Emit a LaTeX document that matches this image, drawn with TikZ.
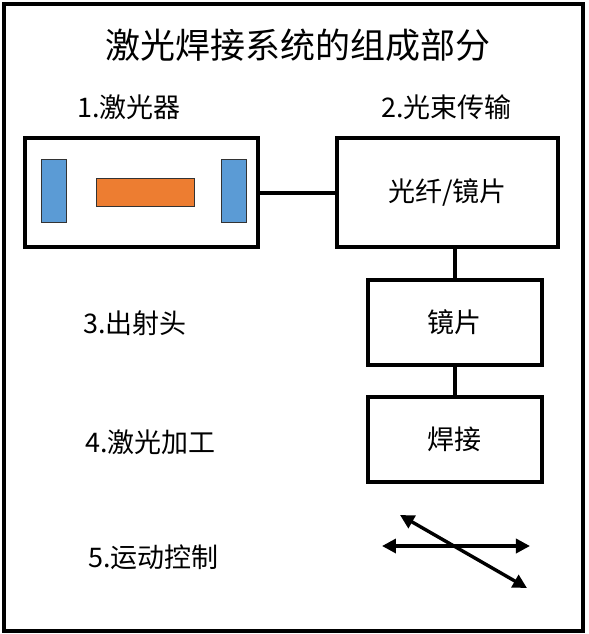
\documentclass[tikz,border=0pt]{standalone}
\usepackage{fontspec}
\setmainfont{Noto Sans CJK SC}
\usetikzlibrary{arrows.meta}
\definecolor{mirrorblue}{HTML}{5B9BD5}
\definecolor{rodorange}{HTML}{ED7D31}
\tikzset{
  box/.style={draw, line width=2pt, inner sep=0pt, font=\fontsize{13.5}{16}\selectfont},
  lbl/.style={anchor=west, inner sep=0pt, font=\fontsize{13.5}{16}\selectfont},
  link/.style={line width=2pt},
  motion/.style={line width=1.7pt, {Triangle[length=7pt,width=7pt]}-{Triangle[length=7pt,width=7pt]}},
}
\begin{document}
\begin{tikzpicture}[x=0.5pt,y=-0.5pt]
  \useasboundingbox (0,0) rectangle (589,634);
  % outer frame and title
  \draw[line width=2pt] (4,4) rectangle (583,631);
  \node[font=\fontsize{17.5}{21}\selectfont] (title) at (298,45) {激光焊接系统的组成部分};
  % section labels
  \node[lbl] (lab1) at (77,107) {1.激光器};
  \node[lbl] (lab2) at (381,107) {2.光束传输};
  \node[lbl] (lab3) at (83,323) {3.出射头};
  \node[lbl] (lab4) at (85,442) {4.激光加工};
  \node[lbl] (lab5) at (88,557) {5.运动控制};
  % laser: resonator box with two mirrors and the rod
  \node[box, minimum width=116.5pt, minimum height=54.5pt] (laser) at (141.5,192.5) {};
  \filldraw[fill=mirrorblue, draw=black!80, line width=0.5pt] (42,159) rectangle (67,222);
  \filldraw[fill=rodorange, draw=black!80, line width=0.5pt] (97,178) rectangle (195,206);
  \filldraw[fill=mirrorblue, draw=black!80, line width=0.5pt] (222,159) rectangle (247,222);
  % beam delivery chain
  \node[box, minimum width=110.5pt, minimum height=54.5pt] (fiber) at (447.5,192.5) {光纤/镜片};
  \node[box, minimum width=87pt, minimum height=42.5pt] (lens) at (455,322.5) {镜片};
  \node[box, minimum width=87pt, minimum height=42.5pt] (weld) at (455,439.5) {焊接};
  \draw[link] (laser) -- (fiber);
  \draw[link] (lens.north) -- (lens.north |- fiber.south);
  \draw[link] (lens) -- (weld);
  % motion axes
  \coordinate (xl) at (382,546);
  \coordinate (xr) at (530,546);
  \coordinate (dl) at (400,515);
  \coordinate (dr) at (527,588);
  \draw[motion] (xl) -- (xr);
  \draw[motion] (dl) -- (dr);
\end{tikzpicture}
\end{document}
